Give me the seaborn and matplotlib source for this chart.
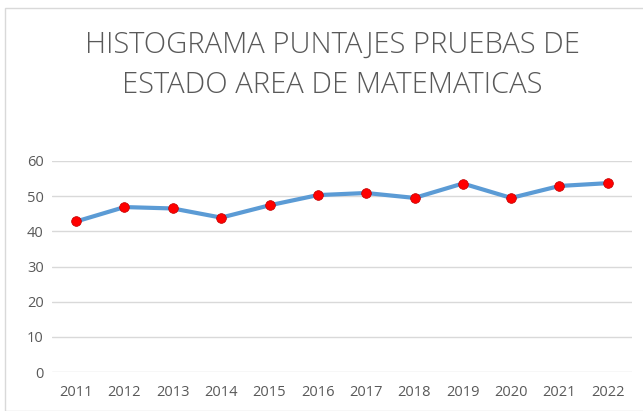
import matplotlib
matplotlib.use("Agg")
import matplotlib.pyplot as plt
import seaborn as sns
import pandas as pd
from matplotlib.patches import Rectangle

years = ["2011", "2012", "2013", "2014", "2015", "2016", "2017", "2018", "2019", "2020", "2021", "2022"]
scores = [42.8, 46.9, 46.5, 43.9, 47.4, 50.3, 50.9, 49.5, 53.6, 49.5, 52.9, 53.7]
yticks = [0, 10, 20, 30, 40, 50, 60]
title = "HISTOGRAMA PUNTAJES PRUEBAS DE\nESTADO AREA DE MATEMATICAS"

sns.set_theme(style="white")
plt.rcParams['font.family'] = ['Open Sans', 'DejaVu Sans']

df = pd.DataFrame({"year": years, "score": scores})

fig = plt.figure(figsize=(6.43, 4.11), dpi=100)
ax = fig.add_axes([52/643, 1-372/411, (632-52)/643, (372-161)/411])

sns.lineplot(data=df, x="year", y="score", ax=ax, color="#5B9BD5", linewidth=3,
             marker="o", markersize=7, markerfacecolor="#FF0000", markeredgecolor="#C00000",
             markeredgewidth=0.5, sort=False)

ax.set_ylim(0, 60)
ax.set_xlim(-0.5, len(years) - 0.5)
ax.set_yticks(yticks)
ax.yaxis.grid(True, color="#D9D9D9", linewidth=1)
ax.set_axisbelow(True)
for s in ax.spines.values():
    s.set_visible(False)
ax.set_xlabel("")
ax.set_ylabel("")
ax.tick_params(axis="both", length=0, labelsize=10.5, colors="#595959")
ax.tick_params(axis="x", pad=9)
ax.tick_params(axis="y", pad=6)

fig.text(332/643, 1-65/411, title, ha="center", va="center", fontsize=21,
         color="#595959", linespacing=1.45, fontweight="light")

fig.patches.append(Rectangle((5/643, 0), 1, 1-8/411, transform=fig.transFigure,
                             fill=False, edgecolor="#D9D9D9", linewidth=1))

fig.savefig("out.png", dpi=100)
